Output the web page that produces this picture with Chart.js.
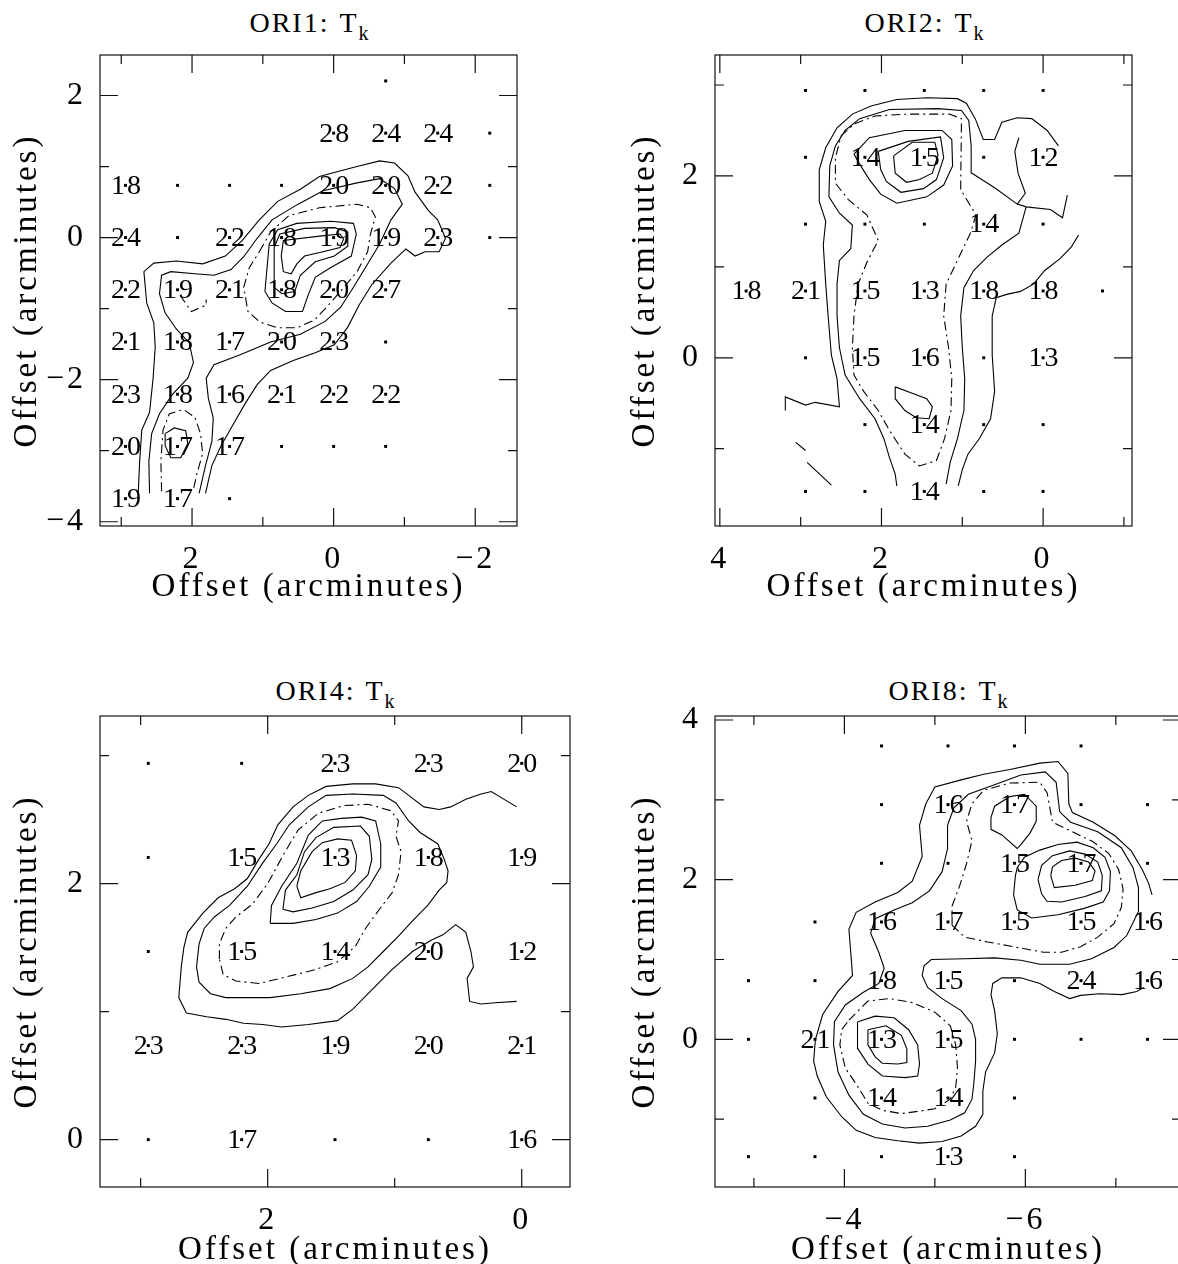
<!DOCTYPE html>
<html>
<head>
<meta charset="utf-8">
<title>ORI T_k maps</title>
<script src="https://cdn.jsdelivr.net/npm/chart.js@4.4.1/dist/chart.umd.min.js"></script>
<style>
  html, body { margin:0; padding:0; background:#fff; }
  body { width:1178px; height:1264px; overflow:hidden; position:relative; }
  canvas { position:absolute; }
  .ttl { position:absolute; width:300px; text-align:center; font-family:"Liberation Serif", serif; font-size:28px; line-height:28px; letter-spacing:2px; color:#000; white-space:nowrap; }
  .ttl .g { margin-left:10px; }
  .ttl sub { font-size:20px; vertical-align:-8px; line-height:0; letter-spacing:0; }
</style>
</head>
<body>
<div class="ttl" style="left:159px;top:9px">ORI1:<span class="g">T</span><sub>k</sub></div>
<div class="ttl" style="left:774px;top:9px">ORI2:<span class="g">T</span><sub>k</sub></div>
<div class="ttl" style="left:185px;top:677px">ORI4:<span class="g">T</span><sub>k</sub></div>
<div class="ttl" style="left:798px;top:677px">ORI8:<span class="g">T</span><sub>k</sub></div>
<canvas id="c1" width="590" height="580" style="left:0px;top:40px"></canvas>
<canvas id="c2" width="578" height="580" style="left:600px;top:40px"></canvas>
<canvas id="c3" width="590" height="580" style="left:0px;top:700px"></canvas>
<canvas id="c4" width="590" height="580" style="left:600px;top:700px"></canvas>
<script>
// ======================= DATA =======================
// Grid of observed positions (arcmin offsets). Tk value printed at a position;
// 0 = observed position shown only as a dot; null = no observation.

// ---------- ORI1 ----------
const ori1XRange = [-2.59, 3.30];
const ori1YRange = [-4.06, 2.57];
const ori1XMajor = [2, 0, -2];
const ori1XMinor = [3, 1, -1];
const ori1YMajor = [2, 0, -2, -4];
const ori1YMinor = [1, -1, -3];
const ori1Cols = [2.94, 2.205, 1.47, 0.735, 0, -0.735, -1.47, -2.205];
const ori1Rows = [2.205, 1.47, 0.735, 0, -0.735, -1.47, -2.205, -2.94, -3.675];
const ori1Tk = [
  [null, null, null, null, null, 0, null, null],
  [null, null, null, null, 28, 24, 24, 0],
  [18, 0, 0, 0, 20, 20, 22, 0],
  [24, 0, 22, 18, 19, 19, 23, 0],
  [22, 19, 21, 18, 20, 27, null, null],
  [21, 18, 17, 20, 23, 0, null, null],
  [23, 18, 16, 21, 22, 22, null, null],
  [20, 17, 17, 0, 0, 0, null, null],
  [19, 17, 0, null, null, null, null, null]
];
const ori1Solid = [
  [[2.76,-3.60],[2.74,-3.15],[2.71,-2.71],[2.60,-2.46],[2.55,-1.98],[2.52,-1.54],[2.54,-1.20],[2.64,-0.92],[2.68,-0.48],[2.54,-0.36],[2.22,-0.33],[1.85,-0.37],[1.53,-0.26],[1.29,-0.04],[1.05,0.25],[0.79,0.51],[0.47,0.68],[0.20,0.86],[-0.06,0.93],[-0.33,1.00],[-0.65,1.08],[-0.86,1.05],[-1.05,0.87],[-1.15,0.64],[-1.34,0.38],[-1.47,0.25],[-1.58,-0.01],[-1.49,-0.20],[-1.29,-0.20],[-1.15,-0.26],[-1.02,-0.16],[-0.81,-0.36],[-0.54,-0.66],[-0.36,-0.95],[-0.20,-1.26],[-0.01,-1.51],[0.26,-1.62],[0.57,-1.73],[0.89,-1.87],[1.08,-2.07],[1.24,-2.32],[1.43,-2.65],[1.59,-2.93],[1.72,-3.21],[1.81,-3.60]],
  [[2.60,-3.60],[2.61,-3.15],[2.57,-2.76],[2.46,-2.48],[2.28,-2.21],[2.06,-1.98],[1.98,-1.76],[2.04,-1.48],[2.22,-1.29],[2.38,-1.06],[2.46,-0.79],[2.43,-0.53],[2.30,-0.48],[1.96,-0.51],[1.69,-0.53],[1.45,-0.45],[1.27,-0.27],[1.08,-0.01],[0.87,0.25],[0.52,0.46],[0.15,0.66],[-0.33,0.77],[-0.65,0.83],[-0.86,0.69],[-0.97,0.47],[-0.81,0.25],[-0.65,-0.09],[-0.45,-0.42],[-0.28,-0.70],[-0.10,-0.98],[0.12,-1.18],[0.47,-1.36],[0.89,-1.47],[1.32,-1.65],[1.69,-1.79],[1.80,-1.98],[1.77,-2.26],[1.70,-2.54],[1.72,-2.87],[1.81,-3.21],[1.90,-3.60]]
];
const ori1SolidRings = [
  [[2.38,-2.76],[2.25,-2.68],[2.09,-2.72],[2.06,-2.90],[2.16,-3.10],[2.30,-3.10],[2.38,-2.93]],
  [[0.97,-0.76],[0.95,-0.53],[0.91,-0.09],[0.79,0.11],[0.52,0.20],[0.04,0.23],[-0.28,0.20],[-0.32,0.05],[-0.25,-0.26],[0.04,-0.42],[0.26,-0.56],[0.36,-0.81],[0.44,-1.04],[0.68,-1.04],[0.87,-0.92]],
  [[0.84,-0.70],[0.84,-0.53],[0.84,-0.14],[0.76,0.05],[0.41,0.13],[-0.01,0.14],[-0.20,0.08],[-0.20,-0.12],[-0.01,-0.26],[0.26,-0.34],[0.47,-0.53],[0.55,-0.76],[0.73,-0.79]],
  [[0.74,-0.26],[0.71,-0.04],[0.20,0.02],[-0.09,0.05],[-0.14,-0.02],[-0.09,-0.14],[0.15,-0.20],[0.41,-0.26],[0.52,-0.37],[0.60,-0.51],[0.71,-0.48]]
];
const ori1Dashed = [
  [[2.17,-0.81],[2.01,-1.04],[1.80,-0.95],[1.80,-0.87]],
  [[2.43,-3.57],[2.44,-3.15],[2.41,-2.71],[2.32,-2.48],[2.12,-2.42],[1.96,-2.53],[1.88,-2.76],[1.85,-3.04],[1.93,-3.32],[1.98,-3.54]]
];
const ori1DashedRings = [
  [[1.05,-0.20],[0.89,0.08],[0.63,0.31],[0.20,0.42],[-0.33,0.47],[-0.52,0.42],[-0.59,0.29],[-0.52,0.05],[-0.48,-0.20],[-0.33,-0.48],[-0.12,-0.73],[0.10,-0.98],[0.27,-1.16],[0.52,-1.27],[0.79,-1.27],[1.04,-1.19],[1.21,-1.04],[1.27,-0.70],[1.19,-0.42]]
];

// ---------- ORI2 ----------
const ori2XRange = [-1.10, 4.06];
const ori2YRange = [-1.85, 3.33];
const ori2XMajor = [4, 2, 0];
const ori2XMinor = [3, 1, -1];
const ori2YMajor = [2, 0];
const ori2YMinor = [3, 1, -1];
const ori2Cols = [3.675, 2.94, 2.205, 1.47, 0.735, 0, -0.735];
const ori2Rows = [2.94, 2.205, 1.47, 0.735, 0, -0.735, -1.47];
const ori2Tk = [
  [null, 0, 0, 0, 0, 0, null],
  [null, 0, 14, 15, 0, 12, null],
  [null, 0, 0, 0, 14, 0, null],
  [18, 21, 15, 13, 18, 18, 0],
  [null, 0, 15, 16, 0, 13, null],
  [null, null, 0, 14, 0, 0, null],
  [null, 0, 0, 14, 0, 0, null]
];
const ori2Solid = [
  [[3.19,-0.58],[3.19,-0.43],[2.94,-0.52],[2.82,-0.49],[2.52,-0.54],[2.55,-0.23],[2.62,0.03],[2.66,0.46],[2.69,0.81],[2.72,1.24],[2.69,1.50],[2.77,1.72],[2.77,2.07],[2.69,2.31],[2.55,2.53],[2.36,2.68],[2.13,2.77],[1.81,2.84],[1.44,2.86],[1.06,2.85],[0.95,2.80],[0.84,2.63],[0.74,2.40],[0.60,2.40],[0.51,2.59],[0.32,2.64],[0.14,2.63],[-0.05,2.50],[-0.19,2.33]],
  [[0.88,2.03],[0.89,2.33],[0.92,2.61],[1.01,2.72],[1.30,2.74],[1.90,2.73],[2.27,2.63],[2.45,2.50],[2.57,2.33],[2.64,2.11],[2.65,1.77],[2.52,1.59],[2.36,1.46],[2.38,1.20],[2.52,1.07],[2.55,0.81],[2.55,0.46],[2.52,0.11],[2.45,-0.19],[2.27,-0.45],[2.08,-0.67],[1.97,-0.89],[1.90,-1.10],[1.83,-1.28],[1.81,-1.41]],
  [[0.88,2.03],[0.60,1.87],[0.32,1.69],[0.21,1.66],[-0.09,1.63],[-0.24,1.54],[-0.30,1.79]],
  [[0.32,1.69],[0.22,1.81],[0.31,2.03],[0.35,2.27],[0.30,2.42]],
  [[-0.44,1.35],[-0.35,1.22],[-0.21,1.09],[-0.02,0.96],[0.12,0.81],[0.28,0.73],[0.44,0.70],[0.58,0.66],[0.63,0.46],[0.63,0.03],[0.60,-0.37],[0.65,-0.67],[0.79,-0.89],[0.93,-1.06],[1.00,-1.23],[1.05,-1.41]],
  [[0.21,1.66],[0.30,1.37],[0.51,1.24],[0.69,1.11],[0.86,0.96],[0.98,0.77],[1.02,0.46],[1.00,0.11],[0.97,-0.23],[0.98,-0.58],[1.06,-0.89],[1.15,-1.15],[1.20,-1.39]],
  [[3.06,-0.93],[2.94,-1.02]],
  [[2.92,-1.15],[2.62,-1.40]]
];
const ori2SolidRings = [
  [[2.34,2.24],[2.15,2.42],[1.71,2.50],[1.25,2.50],[1.13,2.40],[1.12,2.11],[1.23,1.90],[1.44,1.77],[1.81,1.70],[2.01,1.80],[2.15,1.96],[2.27,2.13]],
  [[2.04,2.27],[1.67,2.38],[1.27,2.43],[1.23,2.20],[1.32,1.96],[1.48,1.86],[1.76,1.82],[1.94,1.94],[2.01,2.07]],
  [[1.85,2.22],[1.62,2.37],[1.34,2.37],[1.30,2.23],[1.37,2.03],[1.53,1.96],[1.69,1.93],[1.83,2.03]],
  [[1.83,-0.32],[1.83,-0.45],[1.71,-0.58],[1.57,-0.66],[1.41,-0.67],[1.37,-0.54],[1.44,-0.45],[1.62,-0.39]]
];
const ori2Dashed = [];
const ori2DashedRings = [
  [[1.02,1.85],[1.01,2.63],[1.16,2.68],[1.67,2.68],[2.08,2.66],[2.34,2.57],[2.50,2.44],[2.57,2.20],[2.57,1.92],[2.41,1.74],[2.18,1.57],[2.04,1.29],[2.18,1.05],[2.29,0.81],[2.34,0.46],[2.36,0.11],[2.34,-0.19],[2.22,-0.37],[2.04,-0.58],[1.90,-0.80],[1.71,-1.06],[1.53,-1.19],[1.32,-1.13],[1.22,-0.89],[1.14,-0.58],[1.13,-0.23],[1.17,0.11],[1.23,0.46],[1.20,0.81],[1.04,1.11],[0.90,1.37],[0.83,1.57]]
];

// ---------- ORI4 ----------
const ori4XRange = [-0.38, 3.32];
const ori4YRange = [-0.37, 3.31];
const ori4XMajor = [2, 0];
const ori4XMinor = [3, 1];
const ori4YMajor = [2, 0];
const ori4YMinor = [3, 1];
const ori4Cols = [2.94, 2.205, 1.47, 0.735, 0];
const ori4Rows = [2.94, 2.205, 1.47, 0.735, 0];
const ori4Tk = [
  [0, 0, 23, 23, 20],
  [0, 15, 13, 18, 19],
  [0, 15, 14, 20, 12],
  [23, 23, 19, 20, 21],
  [0, 17, 0, 0, 16]
];
const ori4Solid = [
  [[0.04,2.60],[0.24,2.72],[0.32,2.70],[0.44,2.66],[0.56,2.60],[0.65,2.58],[0.77,2.60],[0.89,2.69],[0.97,2.75],[1.15,2.78],[1.33,2.78],[1.54,2.76],[1.68,2.69],[1.80,2.60],[1.92,2.46],[1.99,2.31],[2.07,2.19],[2.16,2.04],[2.26,1.96],[2.39,1.89],[2.51,1.77],[2.63,1.62],[2.66,1.50],[2.68,1.35],[2.70,1.11],[2.64,0.99],[2.48,0.96],[2.33,0.94],[2.19,0.91],[2.04,0.90],[1.89,0.88],[1.68,0.90],[1.45,0.93],[1.33,1.02],[1.18,1.17],[1.03,1.32],[0.86,1.47],[0.71,1.56],[0.62,1.60],[0.52,1.68],[0.44,1.62],[0.40,1.47],[0.38,1.35],[0.43,1.26],[0.41,1.08],[0.32,1.06],[0.21,1.07],[0.04,1.08]]
];
const ori4SolidRings = [
  [[2.56,1.35],[2.54,1.53],[2.50,1.65],[2.42,1.74],[2.30,1.83],[2.16,1.98],[2.04,2.16],[1.93,2.31],[1.83,2.46],[1.68,2.60],[1.54,2.69],[1.33,2.70],[1.09,2.69],[0.99,2.63],[0.89,2.49],[0.80,2.40],[0.66,2.31],[0.61,2.19],[0.58,2.10],[0.59,2.01],[0.65,1.95],[0.74,1.83],[0.86,1.71],[0.97,1.59],[1.09,1.47],[1.21,1.35],[1.33,1.26],[1.51,1.18],[1.74,1.14],[1.98,1.11],[2.16,1.11],[2.33,1.11],[2.45,1.14],[2.54,1.23]],
  [[1.98,1.69],[1.97,1.83],[1.89,1.98],[1.77,2.16],[1.68,2.38],[1.57,2.49],[1.42,2.51],[1.26,2.52],[1.15,2.49],[1.11,2.31],[1.11,2.13],[1.20,1.98],[1.30,1.86],[1.45,1.77],[1.62,1.72],[1.80,1.69]],
  [[1.88,1.80],[1.86,1.95],[1.77,2.07],[1.71,2.25],[1.62,2.36],[1.48,2.44],[1.27,2.45],[1.20,2.37],[1.18,2.19],[1.21,2.07],[1.33,1.95],[1.48,1.86],[1.65,1.81],[1.80,1.78]],
  [[1.77,1.98],[1.74,2.10],[1.65,2.25],[1.57,2.32],[1.45,2.35],[1.34,2.34],[1.30,2.22],[1.31,2.10],[1.39,2.01],[1.51,1.96],[1.62,1.93],[1.74,1.89]]
];
const ori4Dashed = [];
const ori4DashedRings = [
  [[2.38,1.41],[2.38,1.53],[2.33,1.65],[2.25,1.74],[2.12,1.84],[2.00,2.00],[1.88,2.22],[1.76,2.42],[1.60,2.55],[1.40,2.61],[1.21,2.62],[1.03,2.57],[0.97,2.49],[0.99,2.37],[0.95,2.25],[0.97,2.07],[1.02,1.93],[1.12,1.80],[1.23,1.65],[1.31,1.51],[1.45,1.39],[1.62,1.33],[1.86,1.27],[2.07,1.22],[2.25,1.24],[2.35,1.29]]
];

// ---------- ORI8 ----------
const ori8XRange = [-7.72, -2.57];
const ori8YRange = [-1.85, 4.05];
const ori8XMajor = [-4, -6];
const ori8XMinor = [-3, -5, -7];
const ori8YMajor = [4, 2, 0];
const ori8YMinor = [3, 1, -1];
const ori8Cols = [-2.94, -3.675, -4.41, -5.145, -5.88, -6.615, -7.35];
const ori8Rows = [3.675, 2.94, 2.205, 1.47, 0.735, 0, -0.735, -1.47];
const ori8Tk = [
  [null, null, 0, 0, 0, 0, null],
  [null, null, 0, 16, 17, 0, 0],
  [null, null, 0, 0, 15, 17, 0],
  [null, 0, 16, 17, 15, 15, 16],
  [0, 0, 18, 15, 0, 24, 16],
  [0, 21, 13, 15, 0, 0, 0],
  [null, 0, 14, 14, 0, null, null],
  [0, 0, 0, 13, 0, null, null]
];
const ori8Solid = [
  [[-7.31,0.65],[-7.23,0.60],[-7.07,0.56],[-6.82,0.57],[-6.61,0.55],[-6.49,0.51],[-6.32,0.60],[-6.16,0.70],[-5.95,0.77],[-5.74,0.77],[-5.64,0.70],[-5.62,0.56],[-5.66,0.36],[-5.69,0.07],[-5.66,-0.17],[-5.56,-0.41],[-5.53,-0.65],[-5.53,-0.94],[-5.45,-1.09],[-5.29,-1.21],[-5.08,-1.28],[-4.83,-1.30],[-4.59,-1.27],[-4.34,-1.23],[-4.13,-1.14],[-3.97,-0.97],[-3.80,-0.72],[-3.70,-0.46],[-3.66,-0.27],[-3.68,0.00],[-3.76,0.31],[-3.93,0.60],[-4.09,0.80],[-4.07,1.09],[-4.05,1.38],[-4.13,1.59],[-4.34,1.72],[-4.59,1.84],[-4.75,1.98],[-4.86,2.29],[-4.83,2.68],[-4.90,2.95],[-5.00,3.16],[-5.29,3.25],[-5.54,3.32],[-5.83,3.38],[-6.16,3.46],[-6.36,3.48],[-6.47,3.33],[-6.48,2.95],[-6.52,2.84],[-6.75,2.72],[-6.99,2.55],[-7.17,2.36],[-7.29,2.13],[-7.36,1.96],[-7.40,1.81]]
];
const ori8SolidRings = [
  [[-7.25,1.60],[-7.12,1.30],[-6.98,1.15],[-6.73,1.01],[-6.49,0.94],[-6.16,0.94],[-5.95,0.99],[-5.66,1.02],[-5.33,1.01],[-4.96,1.00],[-4.88,0.92],[-4.86,0.80],[-4.92,0.65],[-5.08,0.51],[-5.29,0.36],[-5.41,0.19],[-5.45,0.00],[-5.45,-0.27],[-5.43,-0.56],[-5.41,-0.75],[-5.33,-0.92],[-5.17,-1.01],[-4.92,-1.09],[-4.67,-1.11],[-4.42,-1.06],[-4.21,-0.94],[-4.05,-0.70],[-3.93,-0.41],[-3.88,-0.07],[-3.89,0.22],[-4.01,0.43],[-4.21,0.59],[-4.38,0.70],[-4.44,0.89],[-4.38,1.09],[-4.29,1.33],[-4.34,1.51],[-4.55,1.62],[-4.75,1.71],[-4.94,1.86],[-5.08,2.10],[-5.14,2.39],[-5.14,2.68],[-5.21,2.90],[-5.37,3.07],[-5.66,3.19],[-5.95,3.31],[-6.22,3.35],[-6.34,3.22],[-6.38,2.85],[-6.50,2.72],[-6.80,2.60],[-7.06,2.40],[-7.19,2.15],[-7.25,1.90]],
  [[-5.62,2.78],[-5.66,2.92],[-5.83,3.04],[-5.99,3.07],[-6.12,2.92],[-6.12,2.73],[-6.05,2.58],[-5.95,2.44],[-5.91,2.39],[-5.74,2.56],[-5.62,2.63]],
  [[-5.89,2.05],[-5.87,1.81],[-5.91,1.62],[-6.07,1.52],[-6.36,1.56],[-6.65,1.64],[-6.86,1.72],[-6.93,1.86],[-6.94,2.10],[-6.88,2.28],[-6.75,2.40],[-6.57,2.47],[-6.36,2.44],[-6.16,2.37],[-5.99,2.28],[-5.91,2.15]],
  [[-6.14,2.00],[-6.18,1.82],[-6.24,1.73],[-6.40,1.72],[-6.66,1.79],[-6.84,1.86],[-6.85,2.05],[-6.80,2.22],[-6.66,2.32],[-6.49,2.36],[-6.30,2.30],[-6.18,2.18]],
  [[-6.28,2.05],[-6.32,1.90],[-6.55,1.93],[-6.74,1.99],[-6.77,2.11],[-6.70,2.22],[-6.55,2.27],[-6.40,2.24],[-6.30,2.16]],
  [[-4.15,0.22],[-4.34,0.29],[-4.55,0.27],[-4.71,0.12],[-4.81,-0.07],[-4.83,-0.31],[-4.81,-0.46],[-4.67,-0.48],[-4.42,-0.46],[-4.26,-0.31],[-4.15,-0.12],[-4.14,0.07]],
  [[-4.26,0.12],[-4.46,0.17],[-4.63,0.05],[-4.69,-0.12],[-4.69,-0.29],[-4.59,-0.31],[-4.42,-0.30],[-4.34,-0.22],[-4.26,-0.07]]
];
const ori8Dashed = [];
const ori8DashedRings = [
  [[-4.05,0.24],[-4.26,0.48],[-4.50,0.51],[-4.75,0.46],[-5.00,0.34],[-5.17,0.17],[-5.23,-0.07],[-5.25,-0.36],[-5.23,-0.60],[-5.17,-0.75],[-5.00,-0.87],[-4.83,-0.90],[-4.63,-0.93],[-4.42,-0.89],[-4.26,-0.80],[-4.13,-0.56],[-4.01,-0.36],[-3.95,-0.07],[-3.97,0.12]],
  [[-5.19,1.43],[-5.33,1.28],[-5.58,1.22],[-5.87,1.16],[-6.20,1.09],[-6.40,1.09],[-6.61,1.16],[-6.80,1.28],[-6.98,1.45],[-7.06,1.65],[-7.08,1.88],[-7.03,2.13],[-6.92,2.33],[-6.74,2.48],[-6.52,2.60],[-6.30,2.72],[-6.24,3.09],[-6.16,3.22],[-5.83,3.21],[-5.54,3.12],[-5.41,2.95],[-5.35,2.73],[-5.41,2.49],[-5.35,2.20],[-5.27,1.91],[-5.19,1.67]]
];

const axisTitle = 'Offset (arcminutes)';

// ======================= RENDERING =======================
const FONT = '"Liberation Serif", "Times New Roman", serif';
Chart.defaults.font.family = FONT;
Chart.defaults.color = '#000';

function fmtTick(v) { return v < 0 ? '\u2212' + Math.abs(v) : String(v); }

const spacingPlugin = {
  id: 'hersheySpacing',
  beforeDraw(chart) { chart.ctx.letterSpacing = '3px'; }
};

function zeroPad(s) { s.paddingTop = 0; s.paddingBottom = 0; s.paddingLeft = 0; s.paddingRight = 0; }

function buildPanel(canvasId, d, lay) {
  const datasets = [];
  function addLines(list, dashed, closed) {
    (list || []).forEach(function (pts) {
      const arr = pts.map(function (p) { return { x: p[0], y: p[1] }; });
      if (closed) arr.push({ x: pts[0][0], y: pts[0][1] });
      datasets.push({
        data: arr, showLine: true, borderColor: '#000', borderWidth: 1.1,
        borderDash: dashed ? [9, 4, 2, 4] : [], pointRadius: 0, pointHoverRadius: 0,
        fill: false, tension: 0
      });
    });
  }
  addLines(d.solid, false, false);
  addLines(d.solidRings, false, true);
  addLines(d.dashed, true, false);
  addLines(d.dashedRings, true, true);

  const obs = [];
  d.tk.forEach(function (row, ri) {
    row.forEach(function (v, ci) { if (v !== null) obs.push({ x: d.cols[ci], y: d.rows[ri] }); });
  });
  datasets.push({
    data: obs, showLine: false, pointStyle: 'rect', pointRadius: 2.1, pointHoverRadius: 2.1,
    pointBackgroundColor: '#000', pointBorderColor: '#000', pointBorderWidth: 0
  });

  const labelPlugin = {
    id: 'tkLabels',
    afterDatasetsDraw(chart) {
      const ctx = chart.ctx, xs = chart.scales.x, ys = chart.scales.y;
      ctx.save();
      ctx.letterSpacing = '0px';
      ctx.font = '28px ' + FONT;
      ctx.fillStyle = '#000';
      ctx.textBaseline = 'middle';
      d.tk.forEach(function (row, ri) {
        row.forEach(function (v, ci) {
          if (v === null || v === 0) return;
          const px = xs.getPixelForValue(d.cols[ci]);
          const py = ys.getPixelForValue(d.rows[ri]);
          const s = String(v);
          ctx.textAlign = 'right'; ctx.fillText(s.charAt(0), px - 0.5, py + 1);
          ctx.textAlign = 'left'; ctx.fillText(s.charAt(1), px + 1.5, py + 1);
        });
      });
      ctx.restore();
    }
  };

  const framePlugin = {
    id: 'pgFrame',
    afterDraw(chart) {
      const ctx = chart.ctx, a = chart.chartArea, xs = chart.scales.x, ys = chart.scales.y;
      ctx.save();
      ctx.letterSpacing = '0px';
      ctx.strokeStyle = '#111';
      ctx.lineWidth = 1.2;
      ctx.strokeRect(a.left, a.top, a.right - a.left, a.bottom - a.top);
      ctx.beginPath();
      function xt(v, L) {
        const p = xs.getPixelForValue(v);
        ctx.moveTo(p, a.bottom); ctx.lineTo(p, a.bottom - L);
        ctx.moveTo(p, a.top); ctx.lineTo(p, a.top + L);
      }
      function yt(v, L) {
        const p = ys.getPixelForValue(v);
        ctx.moveTo(a.left, p); ctx.lineTo(a.left + L, p);
        ctx.moveTo(a.right, p); ctx.lineTo(a.right - L, p);
      }
      d.xMajor.forEach(function (v) { xt(v, 18); });
      d.xMinor.forEach(function (v) { xt(v, 9); });
      d.yMajor.forEach(function (v) { yt(v, 18); });
      d.yMinor.forEach(function (v) { yt(v, 9); });
      ctx.stroke();
      ctx.restore();
    }
  };

  new Chart(document.getElementById(canvasId), {
    type: 'scatter',
    data: { datasets: datasets },
    options: {
      responsive: false,
      animation: false,
      events: [],
      layout: { padding: { left: 0, top: lay.padT, right: lay.padR, bottom: 0 } },
      plugins: { legend: { display: false }, tooltip: { enabled: false }, title: { display: false } },
      scales: {
        x: {
          type: 'linear', position: 'bottom', reverse: true,
          min: d.xRange[0], max: d.xRange[1],
          afterBuildTicks: function (s) { s.ticks = d.xMajor.concat(d.xMinor).map(function (v) { return { value: v }; }); },
          afterFit: function (s) { s.height = lay.xAxisH; zeroPad(s); },
          grid: { display: false, drawTicks: false },
          border: { display: false },
          ticks: {
            autoSkip: false, maxRotation: 0, minRotation: 0, padding: 14, color: '#000',
            font: { size: 32, family: FONT },
            callback: function (v) { return d.xMajor.indexOf(v) >= 0 ? fmtTick(v) : ''; }
          },
          title: { display: true, text: axisTitle, color: '#000', font: { size: 33, family: FONT }, padding: { top: 0, bottom: lay.xTitlePad } }
        },
        y: {
          type: 'linear', position: 'left',
          min: d.yRange[0], max: d.yRange[1],
          afterBuildTicks: function (s) { s.ticks = d.yMajor.concat(d.yMinor).map(function (v) { return { value: v }; }); },
          afterFit: function (s) { s.width = lay.yAxisW; zeroPad(s); },
          grid: { display: false, drawTicks: false },
          border: { display: false },
          ticks: {
            autoSkip: false, maxRotation: 0, minRotation: 0, padding: 14, color: '#000',
            font: { size: 32, family: FONT },
            callback: function (v) { return d.yMajor.indexOf(v) >= 0 ? fmtTick(v) : ''; }
          },
          title: { display: true, text: axisTitle, color: '#000', font: { size: 33, family: FONT }, padding: { top: lay.yTitlePad, bottom: 0 } }
        }
      }
    },
    plugins: [spacingPlugin, labelPlugin, framePlugin]
  });
}

const panels = [
  { id: 'c1', d: { xRange: ori1XRange, yRange: ori1YRange, xMajor: ori1XMajor, xMinor: ori1XMinor, yMajor: ori1YMajor, yMinor: ori1YMinor, cols: ori1Cols, rows: ori1Rows, tk: ori1Tk, solid: ori1Solid, solidRings: ori1SolidRings, dashed: ori1Dashed, dashedRings: ori1DashedRings },
    lay: { padT: 15, padR: 73, yAxisW: 100, xAxisH: 94, yTitlePad: 8, xTitlePad: 13 } },
  { id: 'c2', d: { xRange: ori2XRange, yRange: ori2YRange, xMajor: ori2XMajor, xMinor: ori2XMinor, yMajor: ori2YMajor, yMinor: ori2YMinor, cols: ori2Cols, rows: ori2Rows, tk: ori2Tk, solid: ori2Solid, solidRings: ori2SolidRings, dashed: ori2Dashed, dashedRings: ori2DashedRings },
    lay: { padT: 15, padR: 46, yAxisW: 115, xAxisH: 94, yTitlePad: 26, xTitlePad: 13 } },
  { id: 'c3', d: { xRange: ori4XRange, yRange: ori4YRange, xMajor: ori4XMajor, xMinor: ori4XMinor, yMajor: ori4YMajor, yMinor: ori4YMinor, cols: ori4Cols, rows: ori4Rows, tk: ori4Tk, solid: ori4Solid, solidRings: ori4SolidRings, dashed: ori4Dashed, dashedRings: ori4DashedRings },
    lay: { padT: 16, padR: 20, yAxisW: 100, xAxisH: 93, yTitlePad: 8, xTitlePad: 10 } },
  { id: 'c4', d: { xRange: ori8XRange, yRange: ori8YRange, xMajor: ori8XMajor, xMinor: ori8XMinor, yMajor: ori8YMajor, yMinor: ori8YMinor, cols: ori8Cols, rows: ori8Rows, tk: ori8Tk, solid: ori8Solid, solidRings: ori8SolidRings, dashed: ori8Dashed, dashedRings: ori8DashedRings },
    lay: { padT: 16, padR: 9, yAxisW: 115, xAxisH: 93, yTitlePad: 26, xTitlePad: 10 } }
];
panels.forEach(function (p) { buildPanel(p.id, p.d, p.lay); });
</script>
</body>
</html>
